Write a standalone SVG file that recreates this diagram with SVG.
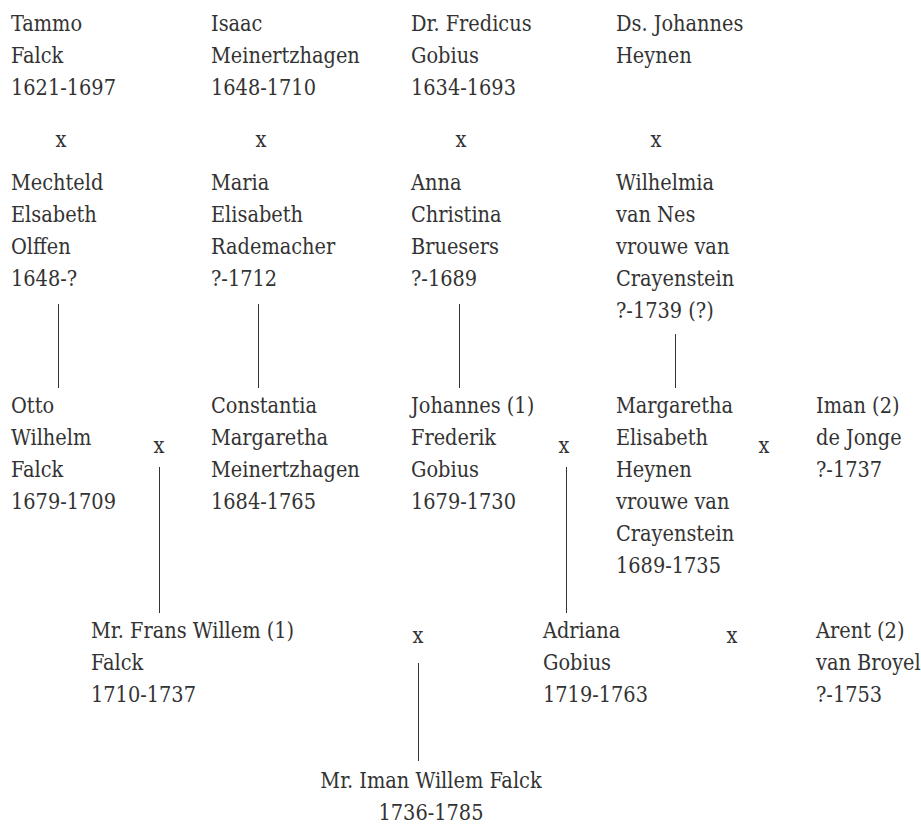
<svg xmlns="http://www.w3.org/2000/svg" width="921" height="825" viewBox="0 0 921 825">
<style>
text{font-family:"DejaVu Serif","Liberation Serif",serif;font-size:21.5px;fill:#333;font-stretch:condensed}
.m{text-anchor:middle}
line{stroke:#333;stroke-width:1}
</style>
<rect width="921" height="825" fill="#fff"/>
<g id="connectors">
<line x1="58.5" y1="304" x2="58.5" y2="388"/>
<line x1="258.5" y1="304" x2="258.5" y2="388"/>
<line x1="459.5" y1="304" x2="459.5" y2="388"/>
<line x1="675.5" y1="334" x2="675.5" y2="388"/>
<line x1="159.5" y1="467" x2="159.5" y2="613"/>
<line x1="566.5" y1="467" x2="566.5" y2="613"/>
<line x1="418.5" y1="663" x2="418.5" y2="761"/>
</g>
<g id="tammo"><text x="11" y="31">Tammo</text><text x="11" y="63">Falck</text><text x="11" y="95">1621-1697</text></g>
<g id="isaac"><text x="211" y="31">Isaac</text><text x="211" y="63">Meinertzhagen</text><text x="211" y="95">1648-1710</text></g>
<g id="fredicus"><text x="411" y="31">Dr. Fredicus</text><text x="411" y="63">Gobius</text><text x="411" y="95">1634-1693</text></g>
<g id="johannes-heynen"><text x="616" y="31">Ds. Johannes</text><text x="616" y="63">Heynen</text></g>
<g id="x1"><text class="m" x="61" y="147">x</text></g>
<g id="x2"><text class="m" x="261" y="147">x</text></g>
<g id="x3"><text class="m" x="461" y="147">x</text></g>
<g id="x4"><text class="m" x="656" y="147">x</text></g>
<g id="mechteld"><text x="11" y="190">Mechteld</text><text x="11" y="222">Elsabeth</text><text x="11" y="254">Olffen</text><text x="11" y="286">1648-?</text></g>
<g id="maria"><text x="211" y="190">Maria</text><text x="211" y="222">Elisabeth</text><text x="211" y="254">Rademacher</text><text x="211" y="286">?-1712</text></g>
<g id="anna"><text x="411" y="190">Anna</text><text x="411" y="222">Christina</text><text x="411" y="254">Bruesers</text><text x="411" y="286">?-1689</text></g>
<g id="wilhelmia"><text x="616" y="190">Wilhelmia</text><text x="616" y="222">van Nes</text><text x="616" y="254">vrouwe van</text><text x="616" y="286">Crayenstein</text><text x="616" y="318">?-1739 (?)</text></g>
<g id="otto"><text x="11" y="413">Otto</text><text x="11" y="445">Wilhelm</text><text x="11" y="477">Falck</text><text x="11" y="509">1679-1709</text></g>
<g id="x5"><text class="m" x="159" y="453">x</text></g>
<g id="constantia"><text x="211" y="413">Constantia</text><text x="211" y="445">Margaretha</text><text x="211" y="477">Meinertzhagen</text><text x="211" y="509">1684-1765</text></g>
<g id="johannes-frederik"><text x="411" y="413">Johannes (1)</text><text x="411" y="445">Frederik</text><text x="411" y="477">Gobius</text><text x="411" y="509">1679-1730</text></g>
<g id="x6"><text class="m" x="564" y="453">x</text></g>
<g id="margaretha"><text x="616" y="413">Margaretha</text><text x="616" y="445">Elisabeth</text><text x="616" y="477">Heynen</text><text x="616" y="509">vrouwe van</text><text x="616" y="541">Crayenstein</text><text x="616" y="573">1689-1735</text></g>
<g id="x7"><text class="m" x="764" y="453">x</text></g>
<g id="iman-dejonge"><text x="816" y="413">Iman (2)</text><text x="816" y="445">de Jonge</text><text x="816" y="477">?-1737</text></g>
<g id="frans-willem"><text x="91" y="638">Mr. Frans Willem (1)</text><text x="91" y="670">Falck</text><text x="91" y="702">1710-1737</text></g>
<g id="x8"><text class="m" x="418" y="643">x</text></g>
<g id="adriana"><text x="543" y="638">Adriana</text><text x="543" y="670">Gobius</text><text x="543" y="702">1719-1763</text></g>
<g id="x9"><text class="m" x="732" y="643">x</text></g>
<g id="arent"><text x="816" y="638">Arent (2)</text><text x="816" y="670">van Broyel</text><text x="816" y="702">?-1753</text></g>
<g id="iman-willem"><text class="m" x="431" y="788">Mr. Iman Willem Falck</text><text class="m" x="431" y="820">1736-1785</text></g>
</svg>
